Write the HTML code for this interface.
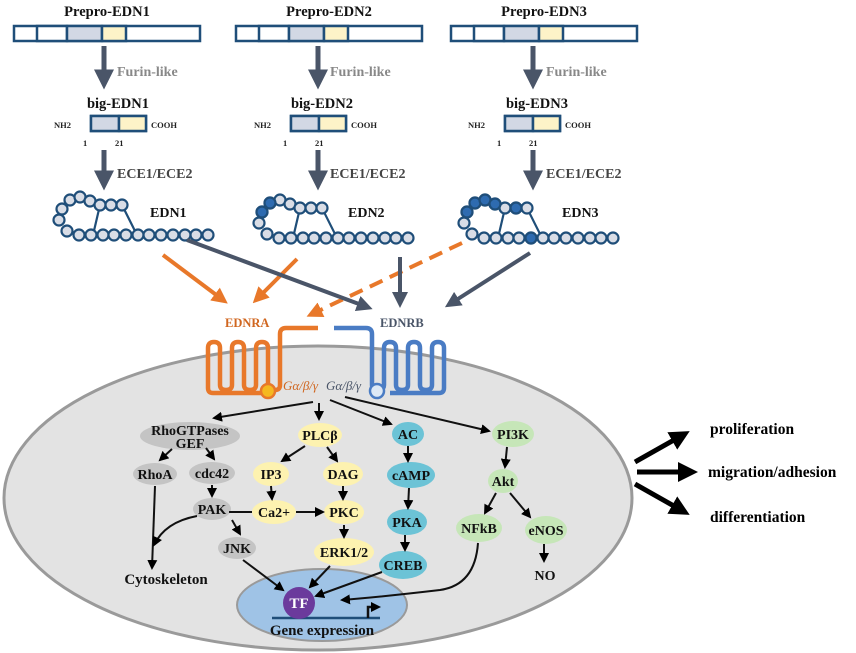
<!DOCTYPE html>
<html><head><meta charset="utf-8"><style>
body{margin:0;background:#fff}
svg{display:block;font-family:"Liberation Serif",serif;font-weight:bold}
</style></head><body>
<svg width="856" height="653" viewBox="0 0 856 653" xmlns="http://www.w3.org/2000/svg">
<defs>
<marker id="ad" markerWidth="4" markerHeight="4" refX="2.5" refY="2" orient="auto" markerUnits="strokeWidth"><path d="M0,0 L4,2 L0,4 z" fill="#4a5568"/></marker>
<marker id="ao" markerWidth="4" markerHeight="4" refX="2.5" refY="2" orient="auto" markerUnits="strokeWidth"><path d="M0,0 L4,2 L0,4 z" fill="#e8782a"/></marker>
<marker id="ab" markerWidth="5" markerHeight="5" refX="4" refY="2.5" orient="auto" markerUnits="strokeWidth"><path d="M0,0 L5,2.5 L0,5 z" fill="#000"/></marker>
<marker id="abig" markerWidth="4" markerHeight="4" refX="2" refY="2" orient="auto" markerUnits="strokeWidth"><path d="M0,0 L4,2 L0,4 z" fill="#000"/></marker>
<g id="pep" stroke="#1f4e79" stroke-width="2.2" fill="#d9dde6">
<line x1="100" y1="205" x2="93" y2="235"/><line x1="122" y1="205" x2="137" y2="235"/>
<circle cx="67" cy="231" r="5.5"/><circle cx="59" cy="220" r="5.5"/><circle cx="62" cy="209" r="5.5"/>
<circle cx="70" cy="200" r="5.5"/><circle cx="80" cy="197" r="5.5"/><circle cx="90" cy="201" r="5.5"/><circle cx="100" cy="205" r="5.5"/><circle cx="111" cy="205" r="5.5"/><circle cx="122" cy="205" r="5.5"/>
<circle cx="79" cy="235" r="5.5"/><circle cx="91" cy="235" r="5.5"/><circle cx="103" cy="235" r="5.5"/><circle cx="114" cy="235" r="5.5"/><circle cx="126" cy="235" r="5.5"/><circle cx="138" cy="235" r="5.5"/><circle cx="149" cy="235" r="5.5"/><circle cx="161" cy="235" r="5.5"/><circle cx="173" cy="235" r="5.5"/><circle cx="185" cy="235" r="5.5"/><circle cx="196" cy="235" r="5.5"/><circle cx="208" cy="235" r="5.5"/>
</g>
<g id="bar" stroke="#1f4e79" stroke-width="2.5">
<rect x="14" y="26" width="186" height="15" fill="#fff"/>
<rect x="37" y="26" width="30" height="15" fill="#fff"/>
<rect x="67" y="26" width="35" height="15" fill="#d2d8e4"/>
<rect x="102" y="26" width="24" height="15" fill="#fdf3c8"/>
</g>
<g id="big">
<rect x="91" y="116" width="55" height="15" fill="#fff" stroke="#1f4e79" stroke-width="2.5"/>
<rect x="91" y="116" width="28" height="15" fill="#d2d8e4" stroke="#1f4e79" stroke-width="2.5"/>
<rect x="119" y="116" width="27" height="15" fill="#fdf3c8" stroke="#1f4e79" stroke-width="2.5"/>
</g>
</defs>

<ellipse cx="318" cy="498" rx="314" ry="152" fill="#e3e3e3" stroke="#9a9a9a" stroke-width="3"/>

<g font-size="14.5" text-anchor="middle" fill="#111">
<text x="107" y="16">Prepro-EDN1</text><text x="329" y="16">Prepro-EDN2</text><text x="544" y="16">Prepro-EDN3</text>
<text x="118" y="108">big-EDN1</text><text x="322" y="108">big-EDN2</text><text x="537" y="108">big-EDN3</text>
</g>
<use href="#bar"/><use href="#bar" transform="translate(222,0)"/><use href="#bar" transform="translate(437,0)"/>
<use href="#big"/><use href="#big" transform="translate(200,0)"/><use href="#big" transform="translate(414,0)"/>
<g font-size="8.5" fill="#222">
<text x="54" y="128">NH2</text><text x="151" y="128">COOH</text><text x="83" y="146">1</text><text x="115" y="146">21</text>
<text x="254" y="128">NH2</text><text x="351" y="128">COOH</text><text x="283" y="146">1</text><text x="315" y="146">21</text>
<text x="468" y="128">NH2</text><text x="565" y="128">COOH</text><text x="497" y="146">1</text><text x="529" y="146">21</text>
</g>
<g stroke="#4a5568" stroke-width="5" marker-end="url(#ad)">
<line x1="104" y1="46" x2="104" y2="82"/><line x1="318" y1="46" x2="318" y2="82"/><line x1="533" y1="46" x2="533" y2="82"/>
<line x1="104" y1="150" x2="104" y2="183"/><line x1="318" y1="150" x2="318" y2="183"/><line x1="533" y1="150" x2="533" y2="183"/>
</g>
<g font-size="14" fill="#888"><text x="117" y="76">Furin-like</text><text x="330" y="76">Furin-like</text><text x="546" y="76">Furin-like</text></g>
<g font-size="14" fill="#444"><text x="117" y="178">ECE1/ECE2</text><text x="330" y="178">ECE1/ECE2</text><text x="546" y="178">ECE1/ECE2</text></g>

<use href="#pep"/>
<use href="#pep" transform="translate(200,3)"/>
<use href="#pep" transform="translate(405,3)"/>
<g fill="#2e6bb0" stroke="#1f4e79" stroke-width="2.2">
<circle cx="262" cy="212" r="5.5"/><circle cx="270" cy="203" r="5.5"/>
<circle cx="467" cy="212" r="5.5"/><circle cx="475" cy="203" r="5.5"/><circle cx="485" cy="200" r="5.5"/><circle cx="495" cy="204" r="5.5"/><circle cx="516" cy="208" r="5.5"/><circle cx="531" cy="238" r="5.5"/>
</g>
<g font-size="14" fill="#111"><text x="150" y="217">EDN1</text><text x="348" y="217">EDN2</text><text x="562" y="217">EDN3</text></g>

<g stroke="#e8782a" stroke-width="4" fill="none">
<line x1="163" y1="255" x2="223" y2="300" marker-end="url(#ao)"/>
<line x1="297" y1="259" x2="257" y2="299" marker-end="url(#ao)"/>
<line x1="462" y1="243" x2="312" y2="314" stroke-dasharray="14,8" marker-end="url(#ao)"/>
</g>
<g stroke="#4a5568" stroke-width="4" fill="none" marker-end="url(#ad)">
<line x1="187" y1="240" x2="367" y2="307"/>
<line x1="400" y1="257" x2="400" y2="302"/>
<line x1="530" y1="253" x2="450" y2="304"/>
</g>
<text x="225" y="327" font-size="12.5" fill="#d0661f">EDNRA</text>
<text x="380" y="327" font-size="12.5" fill="#4a5568">EDNRB</text>

<path d="M318,328 H286 Q280,328 280,334 V385 Q280,390 275,390 Q268,390 268,385 V348 Q268,342 262,342 Q256,342 256,348 V385 Q256,390 250,390 Q244,390 244,385 V348 Q244,342 238,342 Q232,342 232,348 V385 Q232,390 226,390 Q220,390 220,385 V348 Q220,342 214,342 Q208,342 208,348 V388 Q208,393 213,393 H262" fill="none" stroke="#e8782a" stroke-width="4.5"/>
<path d="M318,328 H286 Q280,328 280,334 V385 Q280,390 275,390 Q268,390 268,385 V348 Q268,342 262,342 Q256,342 256,348 V385 Q256,390 250,390 Q244,390 244,385 V348 Q244,342 238,342 Q232,342 232,348 V385 Q232,390 226,390 Q220,390 220,385 V348 Q220,342 214,342 Q208,342 208,348 V388 Q208,393 213,393 H262" fill="none" stroke="#4a7cc4" stroke-width="4.5" transform="translate(652,0) scale(-1,1)"/>
<circle cx="268" cy="391" r="7" fill="#f5b820" stroke="#e8782a" stroke-width="2.5"/>
<circle cx="377" cy="391" r="7" fill="#dde9f6" stroke="#4a7cc4" stroke-width="2.5"/>
<text x="283" y="390" font-size="13" fill="#d0661f" font-weight="normal" font-style="italic">Gα/β/γ</text>
<text x="326" y="390" font-size="13" fill="#4a5568" font-weight="normal" font-style="italic">Gα/β/γ</text>

<g>
<ellipse cx="190" cy="436" rx="50" ry="14" fill="#c4c4c4"/>
<ellipse cx="155" cy="474" rx="22" ry="11" fill="#c4c4c4"/>
<ellipse cx="212" cy="473" rx="23" ry="11" fill="#c4c4c4"/>
<ellipse cx="212" cy="509" rx="19" ry="11" fill="#c4c4c4"/>
<ellipse cx="237" cy="548" rx="19" ry="11" fill="#c4c4c4"/>
<ellipse cx="320" cy="435" rx="22" ry="12" fill="#fdf2b0"/>
<ellipse cx="271" cy="474" rx="18" ry="12" fill="#fdf2b0"/>
<ellipse cx="343" cy="474" rx="20" ry="12" fill="#fdf2b0"/>
<ellipse cx="274" cy="512" rx="22" ry="12" fill="#fdf2b0"/>
<ellipse cx="344" cy="512" rx="20" ry="12" fill="#fdf2b0"/>
<ellipse cx="344" cy="552" rx="30" ry="14" fill="#fdf2b0"/>
<ellipse cx="408" cy="434" rx="16" ry="12" fill="#6cc3d6"/>
<ellipse cx="411" cy="475" rx="24" ry="13" fill="#6cc3d6"/>
<ellipse cx="407" cy="522" rx="20" ry="13" fill="#6cc3d6"/>
<ellipse cx="403" cy="565" rx="24" ry="14" fill="#6cc3d6"/>
<ellipse cx="513" cy="434" rx="21" ry="13" fill="#c6e6b8"/>
<ellipse cx="503" cy="481" rx="15" ry="12" fill="#c6e6b8"/>
<ellipse cx="479" cy="528" rx="23" ry="14" fill="#c6e6b8"/>
<ellipse cx="546" cy="530" rx="21" ry="14" fill="#c6e6b8"/>
</g>
<g font-size="14" fill="#111" text-anchor="middle">
<text x="190" y="435">RhoGTPases</text><text x="190" y="448">GEF</text>
<text x="155" y="479">RhoA</text><text x="212" y="478">cdc42</text><text x="212" y="514">PAK</text><text x="237" y="553">JNK</text>
<text x="166" y="584" font-size="15">Cytoskeleton</text>
<text x="320" y="440">PLCβ</text><text x="271" y="479">IP3</text><text x="343" y="479">DAG</text>
<text x="274" y="517">Ca2+</text><text x="344" y="517">PKC</text><text x="344" y="557">ERK1/2</text>
<text x="408" y="439">AC</text><text x="411" y="480">cAMP</text><text x="407" y="527">PKA</text><text x="403" y="570">CREB</text>
<text x="513" y="439">PI3K</text><text x="503" y="486">Akt</text><text x="479" y="533">NFkB</text><text x="546" y="535">eNOS</text>
<text x="545" y="580">NO</text>
</g>

<ellipse cx="322" cy="605" rx="85" ry="36" fill="#9fc3e6" stroke="#9a9a9a" stroke-width="2"/>
<line x1="272" y1="618" x2="380" y2="618" stroke="#1f4e79" stroke-width="2.5"/>
<path d="M368,618 V607 H376" fill="none" stroke="#111" stroke-width="2.5" marker-end="url(#abig)"/>
<circle cx="299" cy="603" r="16" fill="#6b3a9c"/>
<text x="299" y="608" font-size="15" fill="#fff" text-anchor="middle">TF</text>
<text x="322" y="635" font-size="15" fill="#111" text-anchor="middle">Gene expression</text>

<g stroke="#111" stroke-width="2" fill="none" marker-end="url(#ab)">
<line x1="313" y1="402" x2="214" y2="418"/>
<line x1="319" y1="403" x2="319" y2="419"/>
<line x1="330" y1="400" x2="391" y2="424"/>
<line x1="345" y1="397" x2="489" y2="431"/>
<line x1="172" y1="449" x2="160" y2="460"/>
<line x1="206" y1="448" x2="214" y2="459"/>
<line x1="155" y1="486" x2="152" y2="568"/>
<line x1="212" y1="485" x2="212" y2="496"/>
<line x1="232" y1="520" x2="240" y2="534"/>
<path d="M197,516 Q165,522 154,545"/>
<line x1="243" y1="560" x2="283" y2="590"/>
<line x1="305" y1="446" x2="282" y2="461"/>
<line x1="327" y1="447" x2="337" y2="461"/>
<line x1="271" y1="486" x2="272" y2="499"/>
<line x1="343" y1="486" x2="343" y2="499"/>
<line x1="296" y1="512" x2="323" y2="512"/>
<line x1="344" y1="525" x2="344" y2="537"/>
<line x1="330" y1="566" x2="310" y2="587"/>
<line x1="408" y1="446" x2="408" y2="461"/>
<line x1="409" y1="488" x2="408" y2="508"/>
<line x1="405" y1="535" x2="405" y2="550"/>
<line x1="382" y1="572" x2="316" y2="596"/>
<path d="M478,543 Q475,585 440,590 Q380,597 342,600"/>
<line x1="507" y1="447" x2="505" y2="467"/>
<line x1="496" y1="493" x2="485" y2="513"/>
<line x1="510" y1="493" x2="530" y2="517"/>
<line x1="544" y1="544" x2="544" y2="561"/>
</g>
<line x1="229" y1="512" x2="252" y2="512" stroke="#111" stroke-width="2"/>

<g stroke="#000" stroke-width="5" marker-end="url(#abig)">
<line x1="635" y1="462" x2="681" y2="436"/>
<line x1="637" y1="472" x2="688" y2="472"/>
<line x1="635" y1="484" x2="681" y2="510"/>
</g>
<g font-size="15.5" fill="#000">
<text x="710" y="434">proliferation</text>
<text x="708" y="477">migration/adhesion</text>
<text x="710" y="522">differentiation</text>
</g>
</svg>
</body></html>
